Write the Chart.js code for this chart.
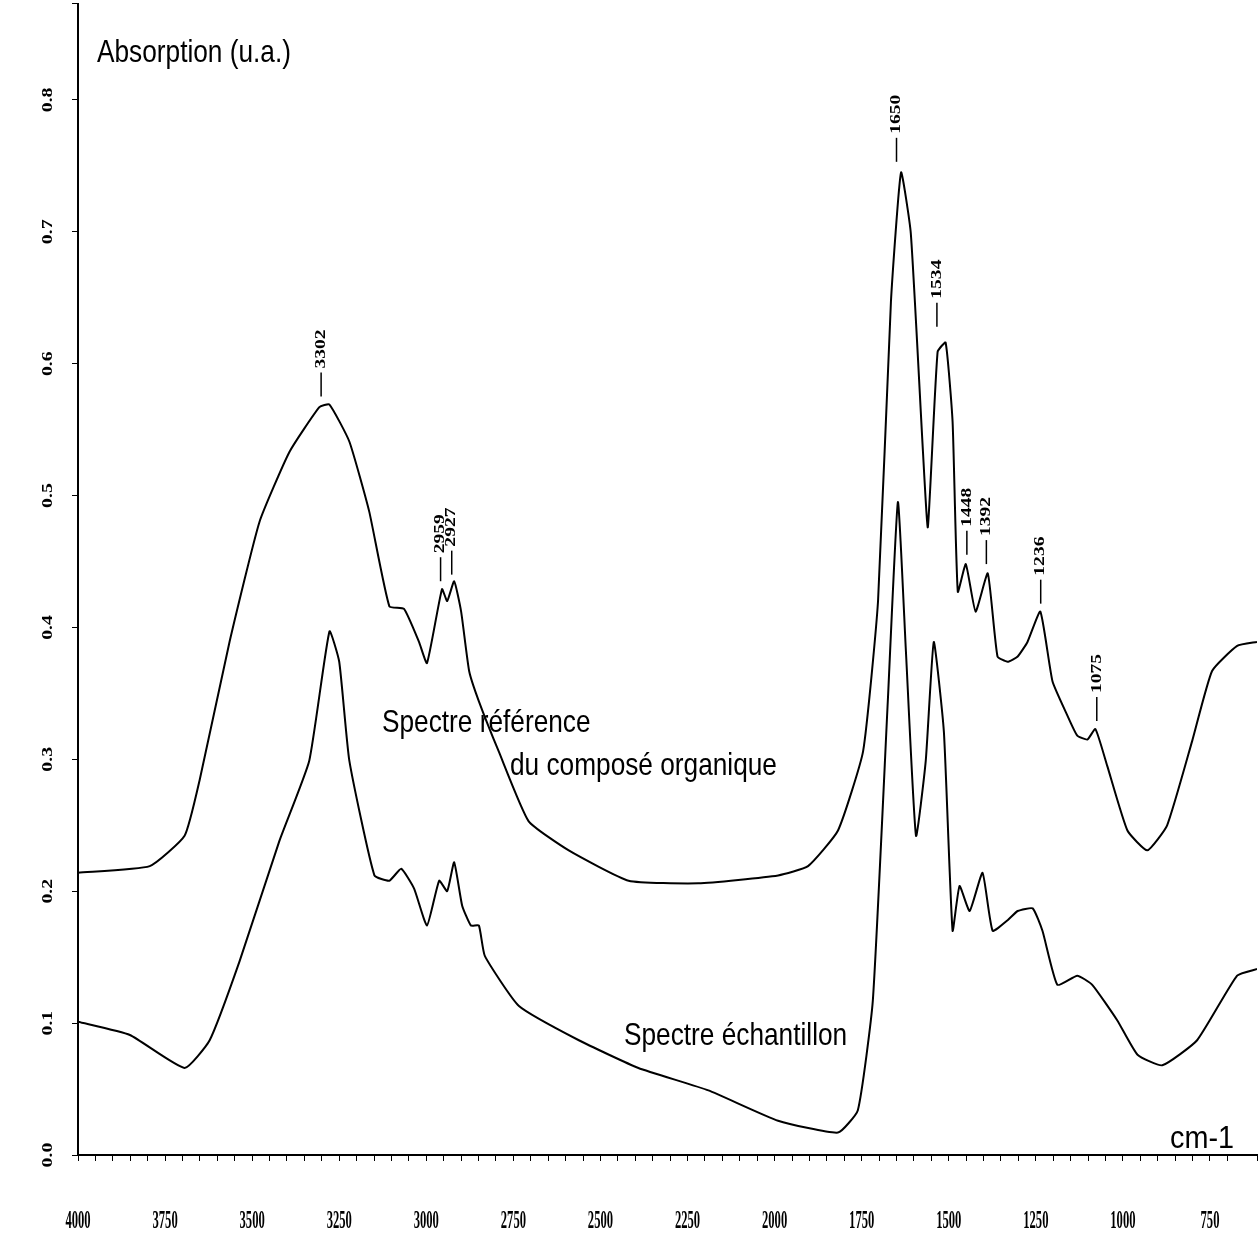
<!DOCTYPE html>
<html><head><meta charset="utf-8">
<script src="https://cdn.jsdelivr.net/npm/chart.js@4/dist/chart.umd.min.js"></script>
<style>html,body{margin:0;padding:0;background:#fff}#w{width:1260px;height:1260px}</style>
</head><body><div id="w"><canvas id="c"></canvas></div>
<script>
const refX=[4000,3794,3694,3651,3565,3479,3393,3307,3278,3221,3164,3106,3064,3021,2998,2955,2940,2920,2900,2877,2849,2792,2706,2591,2419,2219,1990,1904,1818,1746,1703,1666,1637,1609,1574,1560,1532,1509,1489,1474,1451,1423,1388,1360,1331,1302,1274,1237,1202,1159,1131,1102,1079,1045,987,930,873,801,744,672,615];
const refY=[0.214,0.219,0.242,0.284,0.389,0.480,0.533,0.567,0.569,0.541,0.488,0.416,0.414,0.389,0.373,0.429,0.420,0.435,0.412,0.367,0.344,0.306,0.253,0.231,0.208,0.206,0.212,0.219,0.246,0.306,0.420,0.647,0.745,0.699,0.533,0.476,0.609,0.616,0.556,0.427,0.448,0.412,0.441,0.378,0.374,0.378,0.389,0.412,0.359,0.333,0.318,0.315,0.323,0.295,0.246,0.231,0.250,0.314,0.367,0.386,0.389];
const smpX=[4000,3851,3694,3622,3536,3422,3336,3278,3250,3221,3149,3106,3072,3035,2998,2963,2940,2920,2897,2872,2849,2832,2734,2562,2391,2190,1990,1818,1761,1718,1675,1646,1623,1594,1566,1543,1514,1489,1469,1440,1403,1374,1331,1302,1259,1231,1188,1131,1088,1016,958,887,787,672,615];
const smpY=[0.101,0.091,0.066,0.087,0.147,0.238,0.299,0.397,0.374,0.299,0.212,0.208,0.217,0.202,0.174,0.208,0.200,0.222,0.189,0.174,0.174,0.151,0.113,0.087,0.066,0.049,0.026,0.017,0.034,0.117,0.344,0.495,0.382,0.242,0.299,0.389,0.321,0.170,0.204,0.185,0.214,0.170,0.178,0.185,0.187,0.170,0.129,0.136,0.129,0.102,0.076,0.068,0.087,0.136,0.141];
const peakLabels=['3302','2959','2927','1650','1534','1448','1392','1236','1075'];
const peakX=[3302,2959,2927,1650,1534,1448,1392,1236,1075];
const peakY=[0.572,0.432,0.437,0.750,0.625,0.452,0.445,0.415,0.326];
const yTicks=[0.0,0.1,0.2,0.3,0.4,0.5,0.6,0.7,0.8];
const xLabelTicks=[4000,3750,3500,3250,3000,2750,2500,2250,2000,1750,1500,1250,1000,750];

const pts=(xs,ys)=>xs.map((x,i)=>({x:x,y:ys[i]}));
function txt(c,s,x,y,sx,sy,rot){c.save();c.translate(x,y);if(rot)c.rotate(rot);c.scale(sx,sy);c.fillText(s,0,0);c.restore();}
const deco={id:'deco',afterDraw(ch){
 const c=ch.ctx,xs=ch.scales.x,ys=ch.scales.y;
 c.save();c.fillStyle='#000';c.strokeStyle='#000';c.lineWidth=1.5;
 c.font='bold 18px "Liberation Serif"';c.textAlign='center';c.textBaseline='middle';
 yTicks.forEach(v=>txt(c,v.toFixed(1),48,ys.getPixelForValue(v),1.1,0.8,-Math.PI/2));
 xLabelTicks.forEach(v=>txt(c,String(v),xs.getPixelForValue(v),1222,0.7,1.35,0));
 c.font='bold 17px "Liberation Serif"';
 peakX.forEach((p,i)=>{const x=xs.getPixelForValue(p),y=ys.getPixelForValue(peakY[i]);
  c.beginPath();c.moveTo(x,y-4);c.lineTo(x,y-28);c.stroke();
  c.save();c.translate(x,y-32);c.rotate(-Math.PI/2);c.textAlign='left';c.scale(1.15,0.85);c.fillText(peakLabels[i],0,0);c.restore();});
 c.font='32px "Liberation Sans"';c.textAlign='left';c.textBaseline='alphabetic';
 txt(c,'Absorption (u.a.)',97,62,0.82,1,0);
 txt(c,'Spectre référence',382,732,0.82,1,0);
 txt(c,'du composé organique',510,775,0.82,1,0);
 txt(c,'Spectre échantillon',624,1045,0.82,1,0);
 txt(c,'cm-1',1170,1148,0.9,1,0);
 c.restore();
}};
new Chart(document.getElementById('c'),{type:'line',
 data:{datasets:[
  {data:pts(refX,refY),borderColor:'#000',borderWidth:2,pointRadius:0,tension:0.15,fill:false},
  {data:pts(smpX,smpY),borderColor:'#000',borderWidth:2,pointRadius:0,tension:0.15,fill:false}]},
 options:{responsive:true,maintainAspectRatio:false,animation:false,
  layout:{padding:0},
  plugins:{legend:{display:false},tooltip:{enabled:false}},
  scales:{
   x:{type:'linear',reverse:true,min:615,max:4000,
    afterFit(s){s.height=105;},
    border:{color:'#000',width:2},
    grid:{display:true,drawOnChartArea:false,drawTicks:true,tickLength:6,color:'#000'},
    ticks:{stepSize:50,autoSkip:false,maxRotation:0,color:'rgba(0,0,0,0)',font:{size:8},callback:()=>''}},
   y:{type:'linear',min:0,max:0.873,
    afterFit(s){s.width=78;},
    border:{color:'#000',width:2},
    grid:{display:true,drawOnChartArea:false,drawTicks:true,tickLength:6,color:'#000'},
    ticks:{stepSize:0.1,color:'rgba(0,0,0,0)',font:{size:1},callback:()=>''}}}},
 plugins:[deco]});
</script></body></html>
